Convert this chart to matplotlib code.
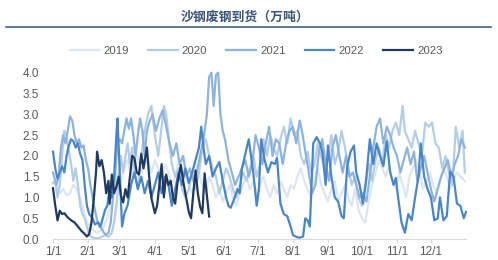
import matplotlib
matplotlib.use("Agg")
import matplotlib.pyplot as plt
from matplotlib.lines import Line2D

plt.rcParams['font.family'] = ['Liberation Sans', 'Noto Sans CJK SC', 'DejaVu Sans']

# --- DATA (day of year -> arrivals, 10k tonnes) ---
d2019 = [0, 3, 6, 9, 12, 15, 18, 21, 24, 27, 30, 33, 36, 39, 42, 45, 48, 51, 54, 57, 60, 63, 66, 69, 72, 75, 78, 81, 84, 87,
         90, 93, 96, 99, 102, 105, 108, 111, 114, 117, 120, 123, 126, 129, 132, 135, 138, 141, 144, 147, 150, 153, 156, 159,
         162, 165, 168, 171, 174, 177, 180, 183, 186, 189, 192, 195, 198, 201, 204, 207, 210, 213, 216, 219, 222, 225, 228,
         231, 234, 237, 240, 243, 246, 249, 252, 255, 258, 261, 264, 267, 270, 273, 276, 279, 282, 285, 288, 291, 294, 297,
         300, 303, 306, 309, 312, 315, 318, 321, 324, 327, 330, 333, 336, 339, 342, 345, 348, 351, 354, 357, 360, 364]
v2019 = [1.35, 1.3, 1.1, 1.2, 1.05, 1.1, 1.3, 1.2, 1.0, 0.7, 0.4, 0.3, 0.2, 0.15, 0.2, 0.3, 0.5, 0.9, 1.2, 1.6, 1.4, 1.7,
         1.9, 1.5, 1.8, 2.0, 1.6, 1.8, 1.9, 1.6, 1.9, 1.7, 1.5, 1.8, 1.6, 1.3, 1.5, 1.9, 1.7, 1.5, 1.3, 1.1, 1.4, 1.6, 1.3,
         1.1, 1.5, 1.3, 1.0, 1.2, 0.9, 1.1, 1.3, 1.0, 0.8, 1.1, 1.3, 1.5, 1.2, 1.4, 1.1, 1.3, 1.5, 1.2, 1.0, 1.3, 1.1, 1.4,
         1.2, 1.0, 1.3, 1.2, 1.5, 1.7, 1.4, 1.2, 1.0, 1.4, 1.7, 1.3, 1.1, 0.9, 1.2, 1.4, 0.9, 1.1, 1.3, 1.0, 0.8, 1.2, 0.7,
         0.5, 0.4, 0.9, 1.3, 1.6, 1.9, 1.7, 1.5, 1.8, 1.4, 1.2, 1.6, 1.3, 1.0, 1.5, 1.7, 1.9, 1.6, 1.2, 1.4, 1.6, 1.3, 1.1,
         1.4, 1.7, 1.5, 1.2, 1.4, 1.6, 1.5, 1.4]

d2020 = [0, 2, 4, 6, 8, 10, 12, 14, 16, 18, 20, 22, 24, 26, 28, 30, 32, 34, 37, 40, 43, 46, 49, 52, 54, 56, 58, 60, 62, 64,
         66, 68, 70, 72, 75, 78, 81, 84, 87, 90, 93, 96, 98, 100, 102, 105, 108, 111, 114, 117, 120, 123, 126, 129, 132,
         135, 138, 141, 144, 147, 150, 153, 156, 159, 162, 165, 168, 171, 174, 177, 180, 183, 186, 189, 192, 195, 198, 201,
         204, 207, 210, 213, 216, 219, 222, 225, 228, 231, 234, 237, 240, 243, 246, 249, 252, 255, 258, 261, 264, 267, 270,
         273, 276, 279, 282, 285, 288, 291, 294, 297, 300, 303, 306, 309, 311, 314, 317, 320, 323, 326, 329, 332, 335, 338,
         341, 344, 347, 350, 353, 356, 359, 362, 364]
v2020 = [1.35, 1.4, 1.0, 1.3, 2.0, 2.6, 2.5, 2.1, 1.8, 1.4, 1.7, 1.3, 0.8, 0.6, 0.5, 0.3, 0.1, 0.05, 0.02, 0.02, 0.05, 0.1,
         0.05, 0.15, 0.4, 0.8, 1.4, 2.0, 1.6, 2.0, 2.3, 1.8, 2.2, 1.6, 1.2, 2.0, 2.6, 3.0, 3.2, 2.5, 2.0, 2.7, 3.2, 3.0, 2.5,
         1.8, 1.5, 1.7, 1.2, 1.0, 1.2, 1.6, 1.2, 1.6, 2.2, 2.4, 2.0, 1.7, 1.5, 1.1, 1.4, 1.7, 1.5, 1.2, 1.0, 1.3, 1.6, 1.4,
         1.7, 2.0, 1.5, 1.8, 2.4, 2.0, 2.5, 2.2, 2.0, 2.4, 2.7, 2.3, 2.9, 2.5, 2.6, 2.0, 1.8, 2.1, 1.6, 1.8, 2.3, 2.0, 1.7,
         1.9, 2.5, 1.8, 2.1, 2.6, 2.2, 1.7, 1.3, 1.5, 1.0, 0.8, 1.2, 1.8, 1.4, 1.9, 2.2, 1.8, 2.5, 2.2, 2.6, 2.8, 2.5, 3.2,
         2.6, 2.4, 2.2, 2.6, 2.3, 2.0, 2.8, 2.7, 2.8, 2.3, 2.2, 1.7, 2.0, 1.6, 1.3, 2.7, 2.2, 2.6, 1.6]

d2021 = [0, 3, 5, 7, 9, 11, 13, 15, 17, 19, 21, 23, 25, 27, 29, 31, 33, 35, 37, 39, 41, 43, 45, 47, 49, 51, 53, 55, 57, 59,
         61, 63, 65, 67, 69, 71, 73, 75, 77, 79, 81, 83, 85, 88, 91, 94, 97, 100, 103, 106, 109, 112, 115, 118, 121, 124,
         127, 130, 133, 136, 138, 140, 142, 144, 146, 148, 150, 152, 155, 158, 161, 164, 167, 170, 173, 176, 179, 182, 185,
         188, 191, 194, 197, 200, 203, 206, 209, 212, 215, 218, 220, 223, 226, 229, 232, 235, 238, 241, 244, 247, 250, 253,
         256, 259, 262, 265, 268, 271, 274, 277, 280, 283, 286, 289, 292, 295, 298, 301, 304, 307, 310, 313, 316, 319, 322,
         325, 328, 331, 334, 337, 340, 343, 346, 349, 352, 355, 358, 361, 364]
v2021 = [1.6, 1.3, 1.5, 2.2, 2.5, 2.3, 2.6, 2.95, 2.85, 2.5, 2.3, 2.4, 2.2, 2.25, 1.9, 1.7, 1.3, 1.0, 0.7, 0.45, 0.3, 0.25,
         0.15, 0.1, 0.15, 0.4, 1.0, 1.6, 2.3, 2.4, 2.3, 2.6, 2.9, 2.65, 2.9, 2.5, 2.0, 2.5, 2.9, 2.6, 2.0, 2.6, 2.8, 3.0, 2.6,
         2.9, 3.1, 2.7, 2.3, 2.0, 2.3, 1.8, 2.0, 1.5, 1.7, 1.4, 1.6, 2.0, 2.4, 3.0, 3.9, 4.0, 3.2, 3.95, 4.0, 3.0, 2.6, 2.4,
         1.9, 1.6, 1.3, 1.5, 1.7, 1.9, 1.5, 1.8, 2.5, 2.2, 1.8, 2.3, 2.7, 2.0, 2.4, 2.3, 1.8, 2.3, 2.6, 2.7, 2.3, 2.85, 2.6,
         2.1, 1.6, 1.1, 1.3, 2.1, 2.4, 1.8, 1.4, 2.2, 2.5, 2.0, 1.6, 2.0, 1.5, 1.6, 1.3, 1.0, 1.1, 0.9, 1.5, 2.2, 2.7, 2.9,
         2.3, 2.7, 2.5, 2.2, 2.0, 1.6, 1.9, 2.2, 1.8, 2.1, 1.4, 1.7, 2.0, 1.6, 1.2, 0.9, 1.2, 1.5, 1.7, 1.9, 1.5, 1.8, 2.0,
         2.4, 2.2]

d2022 = [0, 2, 4, 6, 8, 10, 12, 14, 16, 18, 20, 22, 24, 26, 28, 30, 32, 35, 37, 40, 42, 44, 46, 48, 50, 52, 54, 56, 57, 59,
         61, 63, 66, 69, 72, 75, 78, 81, 84, 87, 90, 93, 96, 99, 102, 105, 108, 111, 114, 117, 120, 123, 126, 129, 131, 133,
         135, 138, 141, 144, 147, 150, 153, 155, 157, 160, 163, 165, 167, 170, 173, 175, 177, 180, 182, 184, 187, 190, 193,
         196, 198, 201, 204, 207, 210, 212, 215, 218, 221, 223, 225, 227, 230, 233, 236, 238, 241, 243, 246, 249, 252, 255,
         257, 260, 263, 266, 268, 271, 274, 277, 280, 283, 286, 289, 292, 295, 298, 301, 303, 305, 308, 311, 314, 317, 320,
         323, 325, 328, 331, 334, 337, 340, 342, 345, 348, 351, 354, 357, 360, 363, 365]
v2022 = [2.1, 1.7, 1.45, 1.6, 1.75, 1.6, 2.0, 2.25, 2.4, 2.35, 2.2, 2.3, 2.05, 1.9, 1.3, 0.8, 0.6, 0.5, 0.35, 0.4, 0.3, 0.5,
         0.7, 0.8, 1.2, 1.0, 1.5, 2.5, 2.9, 1.6, 0.3, 0.6, 0.82, 1.3, 1.6, 1.2, 1.5, 1.1, 1.4, 1.0, 1.3, 1.6, 1.1, 1.5, 1.3,
         0.8, 1.2, 1.6, 1.3, 1.7, 1.35, 1.6, 1.9, 2.2, 2.7, 2.2, 1.8, 2.0, 1.5, 1.7, 1.85, 1.4, 1.0, 0.8, 0.75, 0.95, 1.2,
         1.1, 1.7, 2.05, 2.4, 2.0, 1.6, 0.8, 1.2, 2.4, 1.9, 1.6, 1.85, 1.8, 1.95, 0.85, 0.6, 0.55, 0.3, 0.1, 0.05, 0.03,
         0.06, 0.5, 0.45, 0.3, 2.3, 2.45, 2.3, 2.1, 1.3, 2.25, 1.5, 1.0, 0.9, 0.55, 0.5, 1.75, 2.1, 2.25, 1.6, 1.3, 0.85,
         1.5, 2.4, 1.8, 2.3, 2.0, 1.75, 2.35, 1.6, 1.3, 1.47, 1.0, 0.4, 0.15, 0.6, 0.45, 1.0, 1.5, 2.3, 1.5, 1.2, 1.0, 0.45,
         0.5, 1.0, 0.45, 0.55, 1.62, 1.5, 0.85, 0.8, 0.5, 0.65]

d2023 = [0, 2, 4, 6, 8, 10, 13, 16, 19, 22, 25, 28, 30, 32, 34, 36, 38, 39, 41, 43, 45, 47, 49, 50, 52, 54, 56, 58, 60, 62,
         64, 66, 68, 70, 72, 74, 76, 78, 80, 83, 85, 87, 90, 92, 94, 96, 98, 100, 102, 104, 106, 108, 110, 113, 115, 118,
         120, 122, 124, 126, 128, 130, 132, 134, 136, 138]
v2023 = [1.22, 0.8, 0.45, 0.68, 0.6, 0.62, 0.52, 0.45, 0.4, 0.3, 0.2, 0.12, 0.06, 0.12, 0.4, 0.95, 1.6, 2.1, 1.75, 1.9,
         1.6, 1.1, 1.4, 0.85, 1.55, 1.1, 1.25, 1.5, 1.05, 0.88, 1.2, 1.0, 1.5, 2.0, 1.95, 1.6, 1.55, 2.05, 1.7, 2.2, 1.5,
         0.98, 0.62, 0.8, 1.3, 1.8, 1.0, 1.55, 1.3, 1.4, 1.0, 0.85, 1.35, 1.78, 1.4, 0.95, 0.65, 0.5, 1.1, 1.65, 1.1, 0.78,
         0.62, 1.58, 1.05, 0.54]

years = ['2019', '2020', '2021', '2022', '2023']
colors = ['#DCE6F2', '#B4CDE6', '#8DB3DA', '#4A86C5', '#1F3A5F']
month_days = [0, 31, 59, 90, 120, 151, 181, 212, 243, 273, 304, 334]
month_labels = ['1/1', '2/1', '3/1', '4/1', '5/1', '6/1', '7/1', '8/1', '9/1', '10/1', '11/1', '12/1']
yticks = [0.0, 0.5, 1.0, 1.5, 2.0, 2.5, 3.0, 3.5, 4.0]

# --- PLOT ---
fig = plt.figure(figsize=(4.98, 2.60), dpi=100)
ax = fig.add_axes([53 / 498, 21 / 260, 413 / 498, 166.3 / 260])

series = [(d2019, v2019), (d2020, v2020), (d2021, v2021), (d2022, v2022), (d2023, v2023)]
for (d, v), c, lab in zip(series, colors, years):
    ax.plot(d, v, color=c, linewidth=1.6, label=lab, clip_on=False, solid_joinstyle='round')

ax.set_xlim(0, 365)
ax.set_ylim(0, 4.0)
ax.set_xticks(month_days)
ax.set_xticklabels(month_labels)
ax.set_yticks(yticks)
ax.set_yticklabels([f'{t:.1f}' for t in yticks])

for s in ['top', 'right', 'left']:
    ax.spines[s].set_visible(False)
ax.spines['bottom'].set_color('#D9D9D9')
ax.spines['bottom'].set_linewidth(0.8)
ax.tick_params(axis='x', colors='#D9D9D9', length=3, width=0.8, labelcolor='#595959', labelsize=8.5, pad=2)
ax.tick_params(axis='y', length=0, labelcolor='#595959', labelsize=8.5, pad=10)

# title + rule under it
fig.text(0.492, 0.937, '沙钢废钢到货（万吨）', ha='center', va='center', fontsize=9.3,
         fontweight='bold', color='#3B5577', family=['Noto Sans CJK SC'])
fig.add_artist(Line2D([6 / 498, 491 / 498], [1 - 26.7 / 260, 1 - 26.7 / 260], color='#44607F', linewidth=1.2))

fig.legend(loc='center', bbox_to_anchor=(0.514, 0.804), ncol=5, frameon=False, fontsize=8.2,
           handlelength=2.6, handletextpad=0.35, columnspacing=1.7, labelcolor='#595959')

fig.savefig('out.png', dpi=100)
